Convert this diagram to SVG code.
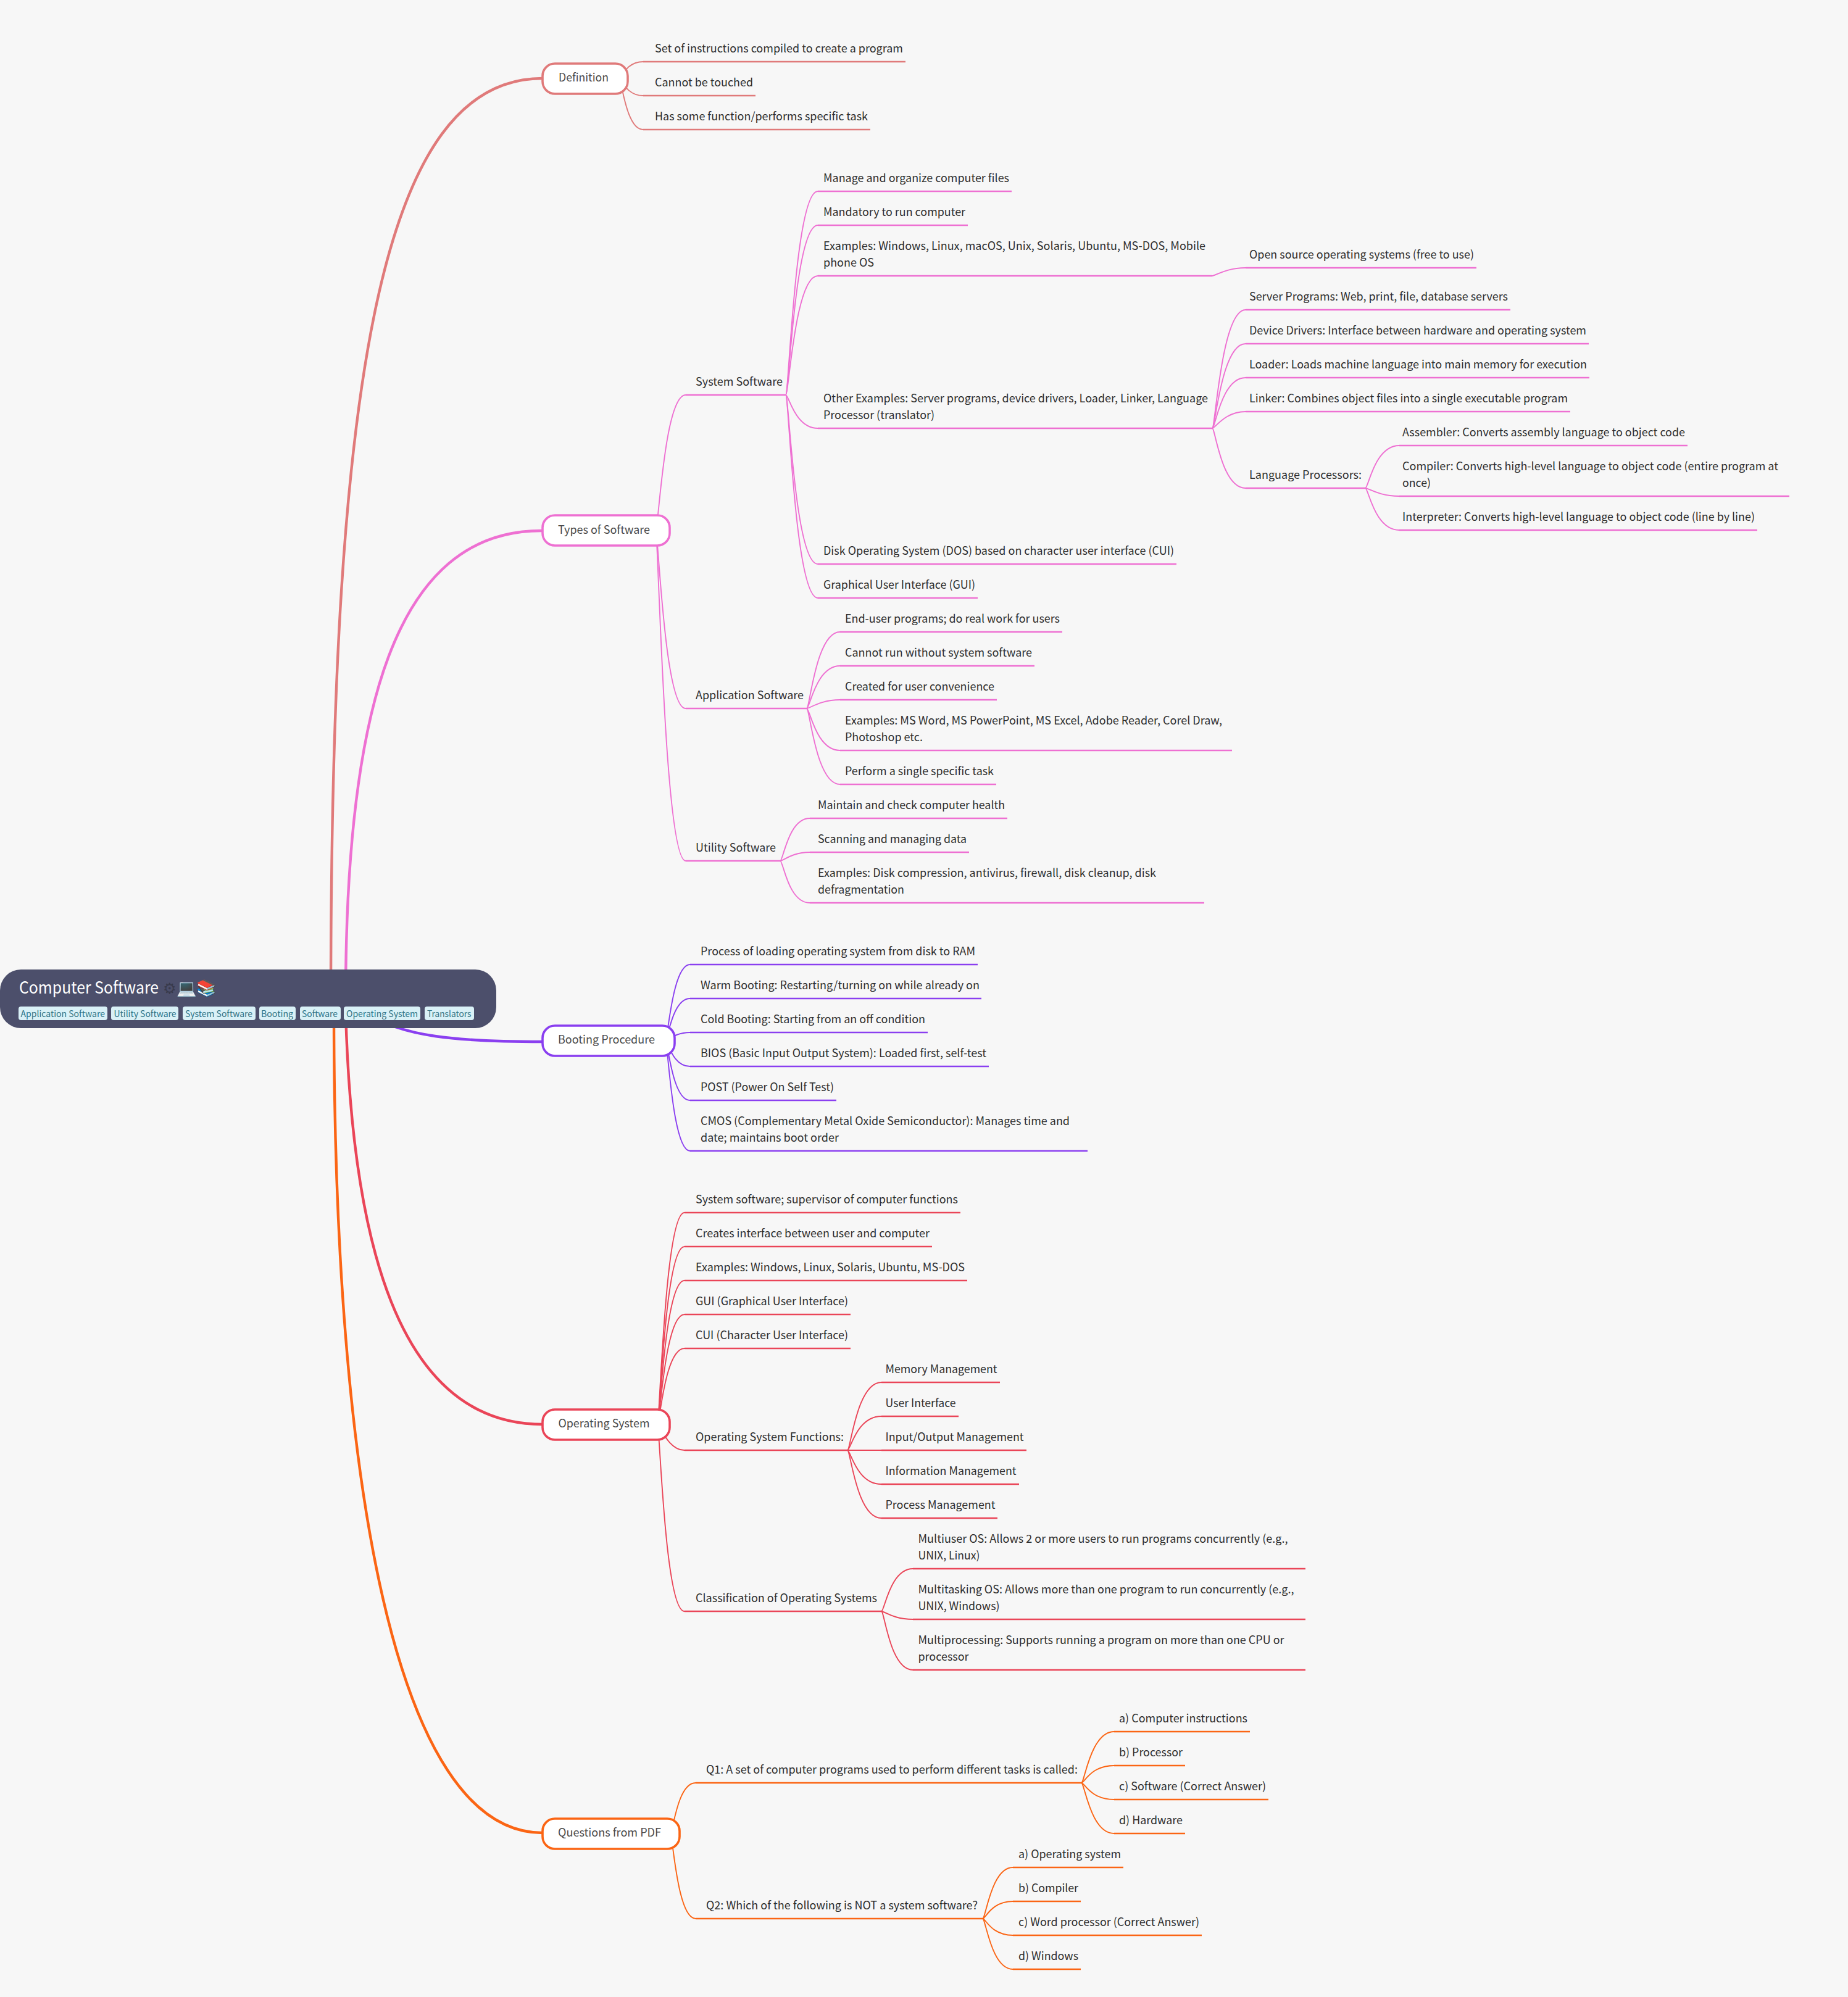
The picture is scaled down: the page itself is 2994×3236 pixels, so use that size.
<svg xmlns="http://www.w3.org/2000/svg" width="2994" height="3236" viewBox="0 0 2994 3236">
<style>
text{font-family:"Noto Sans CJK SC","Noto Sans",sans-serif;font-size:18px;fill:#2e2e2e}
.lb{fill:#4a4a4a}
.title{font-size:27px;fill:#fff}
.tag{font-size:14px;fill:#2f7486}
.tagbox{fill:#d9f1f7}
.c{fill:none;stroke-width:1.9;stroke-linecap:round}
.u{fill:none;stroke-width:2.6}
.m{fill:none;stroke-width:4.4;stroke-linecap:round}
.box{fill:#fff;stroke-width:3.6}
.def{stroke:#e07a7a}.typ{stroke:#ee70d2}.boot{stroke:#8a3ff0}.os{stroke:#ea4558}.q{stroke:#fb6514}
</style>
<rect width="2994" height="3236" fill="#f7f7f7"/>
<g id="connectors">
<path class="m def" d="M536 1620C536 600 620 127 879 127"/>
<path class="m typ" d="M560 1620C560 1150 640 860 877 860"/>
<path class="m os" d="M560 1640C570 2000 640 2308 879 2308"/>
<path class="m q" d="M541 1640C541 2400 640 2970 879 2970"/>
<path class="m boot" d="M590 1640C650 1680 740 1688 879 1688"/>
<g id="conn-definition">
<path class="c def" d="M1003 127C1007 127 1014 100 1042 100"/>
<path class="c def" d="M1003 127C1007 127 1014 155 1042 155"/>
<path class="c def" d="M1003 127C1007 127 1014 210 1042 210"/>
<path class="u def" d="M1042 100H1467M1042 155H1224M1042 210H1410"/>
</g>
<g id="conn-types">
<path class="c typ" d="M1062 860C1067 860 1076 640 1111 640"/>
<path class="c typ" d="M1062 860C1067 860 1076 1148 1111 1148"/>
<path class="c typ" d="M1062 860C1067 860 1076 1395 1111 1395"/>
<path class="c typ" d="M1273 640C1278 640 1288 310 1325 310"/>
<path class="c typ" d="M1273 640C1278 640 1288 365 1325 365"/>
<path class="c typ" d="M1273 640C1278 640 1288 447 1325 447"/>
<path class="c typ" d="M1273 640C1278 640 1288 694 1325 694"/>
<path class="c typ" d="M1273 640C1278 640 1288 914 1325 914"/>
<path class="c typ" d="M1273 640C1278 640 1288 969 1325 969"/>
<path class="c typ" d="M1964 447C1969 447 1986 434 2018 434"/>
<path class="c typ" d="M1964 694C1969 694 1979 502 2018 502"/>
<path class="c typ" d="M1964 694C1969 694 1979 557 2018 557"/>
<path class="c typ" d="M1964 694C1969 694 1979 612 2018 612"/>
<path class="c typ" d="M1964 694C1969 694 1984 667 2018 667"/>
<path class="c typ" d="M1964 694C1969 694 1979 791 2018 791"/>
<path class="c typ" d="M2212 791C2217 791 2227 722 2267 722"/>
<path class="c typ" d="M2212 791C2217 791 2234 804 2267 804"/>
<path class="c typ" d="M2212 791C2217 791 2227 859 2267 859"/>
<path class="c typ" d="M1307 1148C1312 1148 1322 1024 1361 1024"/>
<path class="c typ" d="M1307 1148C1312 1148 1322 1079 1361 1079"/>
<path class="c typ" d="M1307 1148C1312 1148 1329 1134 1361 1134"/>
<path class="c typ" d="M1307 1148C1312 1148 1322 1216 1361 1216"/>
<path class="c typ" d="M1307 1148C1312 1148 1322 1271 1361 1271"/>
<path class="c typ" d="M1264 1395C1269 1395 1277 1326 1312 1326"/>
<path class="c typ" d="M1264 1395C1269 1395 1283 1381 1312 1381"/>
<path class="c typ" d="M1264 1395C1269 1395 1277 1463 1312 1463"/>
<path class="u typ" d="M1111 640H1273M1111 1148H1307M1111 1395H1264M1325 310H1639M1325 365H1568M1325 447H1964M1325 694H1964M1325 914H1906M1325 969H1584M2018 434H2392M2018 502H2447M2018 557H2574M2018 612H2575M2018 667H2544M2018 791H2212M2267 722H2734M2267 804H2899M2267 859H2847M1361 1024H1721M1361 1079H1676M1361 1134H1615M1361 1216H1996M1361 1271H1614M1312 1326H1632M1312 1381H1570M1312 1463H1951"/>
</g>
<g id="conn-booting">
<path class="c boot" d="M1078 1686C1082 1686 1089 1563 1118 1563"/>
<path class="c boot" d="M1078 1686C1082 1686 1089 1618 1118 1618"/>
<path class="c boot" d="M1078 1686C1082 1686 1094 1673 1118 1673"/>
<path class="c boot" d="M1078 1686C1082 1686 1089 1728 1118 1728"/>
<path class="c boot" d="M1078 1686C1082 1686 1089 1783 1118 1783"/>
<path class="c boot" d="M1078 1686C1082 1686 1089 1865 1118 1865"/>
<path class="u boot" d="M1118 1563H1584M1118 1618H1590M1118 1673H1503M1118 1728H1602M1118 1783H1355M1118 1865H1762"/>
</g>
<g id="conn-os">
<path class="c os" d="M1065 2308C1069 2308 1077 1965 1109 1965"/>
<path class="c os" d="M1065 2308C1069 2308 1077 2020 1109 2020"/>
<path class="c os" d="M1065 2308C1069 2308 1077 2075 1109 2075"/>
<path class="c os" d="M1065 2308C1069 2308 1077 2130 1109 2130"/>
<path class="c os" d="M1065 2308C1069 2308 1077 2185 1109 2185"/>
<path class="c os" d="M1065 2308C1069 2308 1082 2350 1109 2350"/>
<path class="c os" d="M1065 2308C1069 2308 1077 2611 1109 2611"/>
<path class="c os" d="M1373 2350C1378 2350 1388 2240 1428 2240"/>
<path class="c os" d="M1373 2350C1378 2350 1388 2295 1428 2295"/>
<path class="c os" d="M1373 2350H1428"/>
<path class="c os" d="M1373 2350C1378 2350 1388 2405 1428 2405"/>
<path class="c os" d="M1373 2350C1378 2350 1388 2460 1428 2460"/>
<path class="c os" d="M1428 2611C1433 2611 1442 2542 1479 2542"/>
<path class="c os" d="M1428 2611C1433 2611 1448 2624 1479 2624"/>
<path class="c os" d="M1428 2611C1433 2611 1442 2706 1479 2706"/>
<path class="u os" d="M1109 1965H1556M1109 2020H1510M1109 2075H1567M1109 2130H1378M1109 2185H1378M1109 2350H1373M1109 2611H1428M1428 2240H1620M1428 2295H1553M1428 2350H1663M1428 2405H1651M1428 2460H1616M1479 2542H2115M1479 2624H2115M1479 2706H2115"/>
</g>
<g id="conn-questions">
<path class="c q" d="M1086 2972C1090 2972 1097 2889 1127 2889"/>
<path class="c q" d="M1086 2972C1090 2972 1097 3109 1127 3109"/>
<path class="c q" d="M1752 2889C1757 2889 1767 2806 1805 2806"/>
<path class="c q" d="M1752 2889C1757 2889 1767 2861 1805 2861"/>
<path class="c q" d="M1752 2889C1757 2889 1767 2916 1805 2916"/>
<path class="c q" d="M1752 2889C1757 2889 1767 2971 1805 2971"/>
<path class="c q" d="M1592 3109C1597 3109 1606 3026 1641 3026"/>
<path class="c q" d="M1592 3109C1597 3109 1606 3081 1641 3081"/>
<path class="c q" d="M1592 3109C1597 3109 1606 3136 1641 3136"/>
<path class="c q" d="M1592 3109C1597 3109 1606 3191 1641 3191"/>
<path class="u q" d="M1127 2889H1752M1127 3109H1592M1805 2806H2025M1805 2861H1920M1805 2916H2055M1805 2971H1920M1641 3026H1820M1641 3081H1751M1641 3136H1947M1641 3191H1751"/>
</g>
</g>
<g id="root">
<rect x="0" y="1571" width="804" height="95" rx="34" fill="#4c4f6b"/>
<text class="title" x="31" y="1610" textLength="226" lengthAdjust="spacingAndGlyphs">Computer Software</text>
<text class="title" y="1610"><tspan x="264" style="font-family:'DejaVu Sans',sans-serif;font-size:24px;fill:#383a4c">⚙</tspan><tspan x="286" style="font-family:'Noto Color Emoji','DejaVu Sans',sans-serif;font-size:26px">💻📚</tspan></text>
<rect class="tagbox" x="30" y="1631" width="144" height="22" rx="4"/><text class="tag" x="33.5" y="1648" textLength="136.5" lengthAdjust="spacingAndGlyphs">Application Software</text>
<rect class="tagbox" x="180" y="1631" width="109" height="22" rx="4"/><text class="tag" x="184.5" y="1648" textLength="101" lengthAdjust="spacingAndGlyphs">Utility Software</text>
<rect class="tagbox" x="296" y="1631" width="118" height="22" rx="4"/><text class="tag" x="300" y="1648" textLength="109" lengthAdjust="spacingAndGlyphs">System Software</text>
<rect class="tagbox" x="420" y="1631" width="59" height="22" rx="4"/><text class="tag" x="423" y="1648" textLength="52" lengthAdjust="spacingAndGlyphs">Booting</text>
<rect class="tagbox" x="486" y="1631" width="66" height="22" rx="4"/><text class="tag" x="489" y="1648" textLength="58" lengthAdjust="spacingAndGlyphs">Software</text>
<rect class="tagbox" x="557" y="1631" width="124" height="22" rx="4"/><text class="tag" x="561" y="1648" textLength="116" lengthAdjust="spacingAndGlyphs">Operating System</text>
<rect class="tagbox" x="688" y="1631" width="80" height="22" rx="4"/><text class="tag" x="692" y="1648" textLength="71.5" lengthAdjust="spacingAndGlyphs">Translators</text>
</g>
<g id="definition">
<rect class="box def" x="879" y="103" width="138" height="49" rx="20"/>
<text class="lb" x="905" y="132" textLength="81" lengthAdjust="spacingAndGlyphs">Definition</text>
<text x="1061" y="85" textLength="402" lengthAdjust="spacingAndGlyphs">Set of instructions compiled to create a program</text>
<text x="1061" y="140" textLength="159" lengthAdjust="spacingAndGlyphs">Cannot be touched</text>
<text x="1061" y="195" textLength="345" lengthAdjust="spacingAndGlyphs">Has some function/performs specific task</text>
</g>
<g id="types">
<rect class="box typ" x="879" y="835" width="206" height="49" rx="20"/>
<text class="lb" x="904" y="865" textLength="149" lengthAdjust="spacingAndGlyphs">Types of Software</text>
<text x="1127" y="625" textLength="141" lengthAdjust="spacingAndGlyphs">System Software</text>
<text x="1334" y="295" textLength="301" lengthAdjust="spacingAndGlyphs">Manage and organize computer files</text>
<text x="1334" y="350" textLength="230" lengthAdjust="spacingAndGlyphs">Mandatory to run computer</text>
<text x="1334" y="405" textLength="619" lengthAdjust="spacingAndGlyphs">Examples: Windows, Linux, macOS, Unix, Solaris, Ubuntu, MS-DOS, Mobile</text>
<text x="1334" y="432" textLength="82" lengthAdjust="spacingAndGlyphs">phone OS</text>
<text x="2024" y="419" textLength="364" lengthAdjust="spacingAndGlyphs">Open source operating systems (free to use)</text>
<text x="1334" y="652" textLength="623" lengthAdjust="spacingAndGlyphs">Other Examples: Server programs, device drivers, Loader, Linker, Language</text>
<text x="1334" y="679" textLength="180" lengthAdjust="spacingAndGlyphs">Processor (translator)</text>
<text x="2024" y="487" textLength="419" lengthAdjust="spacingAndGlyphs">Server Programs: Web, print, file, database servers</text>
<text x="2024" y="542" textLength="546" lengthAdjust="spacingAndGlyphs">Device Drivers: Interface between hardware and operating system</text>
<text x="2024" y="597" textLength="547" lengthAdjust="spacingAndGlyphs">Loader: Loads machine language into main memory for execution</text>
<text x="2024" y="652" textLength="516" lengthAdjust="spacingAndGlyphs">Linker: Combines object files into a single executable program</text>
<text x="2024" y="776" textLength="182" lengthAdjust="spacingAndGlyphs">Language Processors:</text>
<text x="2272" y="707" textLength="458" lengthAdjust="spacingAndGlyphs">Assembler: Converts assembly language to object code</text>
<text x="2272" y="762" textLength="609" lengthAdjust="spacingAndGlyphs">Compiler: Converts high-level language to object code (entire program at</text>
<text x="2272" y="789" textLength="46" lengthAdjust="spacingAndGlyphs">once)</text>
<text x="2272" y="844" textLength="571" lengthAdjust="spacingAndGlyphs">Interpreter: Converts high-level language to object code (line by line)</text>
<text x="1334" y="899" textLength="568" lengthAdjust="spacingAndGlyphs">Disk Operating System (DOS) based on character user interface (CUI)</text>
<text x="1334" y="954" textLength="246" lengthAdjust="spacingAndGlyphs">Graphical User Interface (GUI)</text>
<text x="1127" y="1133" textLength="175" lengthAdjust="spacingAndGlyphs">Application Software</text>
<text x="1369" y="1009" textLength="348" lengthAdjust="spacingAndGlyphs">End-user programs; do real work for users</text>
<text x="1369" y="1064" textLength="303" lengthAdjust="spacingAndGlyphs">Cannot run without system software</text>
<text x="1369" y="1119" textLength="242" lengthAdjust="spacingAndGlyphs">Created for user convenience</text>
<text x="1369" y="1174" textLength="611" lengthAdjust="spacingAndGlyphs">Examples: MS Word, MS PowerPoint, MS Excel, Adobe Reader, Corel Draw,</text>
<text x="1369" y="1201" textLength="126" lengthAdjust="spacingAndGlyphs">Photoshop etc.</text>
<text x="1369" y="1256" textLength="241" lengthAdjust="spacingAndGlyphs">Perform a single specific task</text>
<text x="1127" y="1380" textLength="130" lengthAdjust="spacingAndGlyphs">Utility Software</text>
<text x="1325" y="1311" textLength="303" lengthAdjust="spacingAndGlyphs">Maintain and check computer health</text>
<text x="1325" y="1366" textLength="241" lengthAdjust="spacingAndGlyphs">Scanning and managing data</text>
<text x="1325" y="1421" textLength="548" lengthAdjust="spacingAndGlyphs">Examples: Disk compression, antivirus, firewall, disk cleanup, disk</text>
<text x="1325" y="1448" textLength="140" lengthAdjust="spacingAndGlyphs">defragmentation</text>
</g>
<g id="booting">
<rect class="box boot" x="879" y="1662" width="214" height="49" rx="20"/>
<text class="lb" x="904" y="1691" textLength="157" lengthAdjust="spacingAndGlyphs">Booting Procedure</text>
<text x="1135" y="1548" textLength="445" lengthAdjust="spacingAndGlyphs">Process of loading operating system from disk to RAM</text>
<text x="1135" y="1603" textLength="452" lengthAdjust="spacingAndGlyphs">Warm Booting: Restarting/turning on while already on</text>
<text x="1135" y="1658" textLength="364" lengthAdjust="spacingAndGlyphs">Cold Booting: Starting from an off condition</text>
<text x="1135" y="1713" textLength="463" lengthAdjust="spacingAndGlyphs">BIOS (Basic Input Output System): Loaded first, self-test</text>
<text x="1135" y="1768" textLength="216" lengthAdjust="spacingAndGlyphs">POST (Power On Self Test)</text>
<text x="1135" y="1823" textLength="598" lengthAdjust="spacingAndGlyphs">CMOS (Complementary Metal Oxide Semiconductor): Manages time and</text>
<text x="1135" y="1850" textLength="224" lengthAdjust="spacingAndGlyphs">date; maintains boot order</text>
</g>
<g id="operating-system">
<rect class="box os" x="879" y="2284" width="206" height="49" rx="20"/>
<text class="lb" x="904.5" y="2313" textLength="148" lengthAdjust="spacingAndGlyphs">Operating System</text>
<text x="1127" y="1950" textLength="425" lengthAdjust="spacingAndGlyphs">System software; supervisor of computer functions</text>
<text x="1127" y="2005" textLength="379" lengthAdjust="spacingAndGlyphs">Creates interface between user and computer</text>
<text x="1127" y="2060" textLength="436" lengthAdjust="spacingAndGlyphs">Examples: Windows, Linux, Solaris, Ubuntu, MS-DOS</text>
<text x="1127" y="2115" textLength="247" lengthAdjust="spacingAndGlyphs">GUI (Graphical User Interface)</text>
<text x="1127" y="2170" textLength="247" lengthAdjust="spacingAndGlyphs">CUI (Character User Interface)</text>
<text x="1127" y="2335" textLength="240" lengthAdjust="spacingAndGlyphs">Operating System Functions:</text>
<text x="1434.5" y="2225" textLength="181" lengthAdjust="spacingAndGlyphs">Memory Management</text>
<text x="1434.5" y="2280" textLength="114" lengthAdjust="spacingAndGlyphs">User Interface</text>
<text x="1434.5" y="2335" textLength="224" lengthAdjust="spacingAndGlyphs">Input/Output Management</text>
<text x="1434.5" y="2390" textLength="212" lengthAdjust="spacingAndGlyphs">Information Management</text>
<text x="1434.5" y="2445" textLength="178" lengthAdjust="spacingAndGlyphs">Process Management</text>
<text x="1127" y="2596" textLength="294" lengthAdjust="spacingAndGlyphs">Classification of Operating Systems</text>
<text x="1487.5" y="2500" textLength="599" lengthAdjust="spacingAndGlyphs">Multiuser OS: Allows 2 or more users to run programs concurrently (e.g.,</text>
<text x="1487.5" y="2527" textLength="100" lengthAdjust="spacingAndGlyphs">UNIX, Linux)</text>
<text x="1487.5" y="2582" textLength="609" lengthAdjust="spacingAndGlyphs">Multitasking OS: Allows more than one program to run concurrently (e.g.,</text>
<text x="1487.5" y="2609" textLength="132" lengthAdjust="spacingAndGlyphs">UNIX, Windows)</text>
<text x="1487.5" y="2664" textLength="593" lengthAdjust="spacingAndGlyphs">Multiprocessing: Supports running a program on more than one CPU or</text>
<text x="1487.5" y="2691" textLength="82" lengthAdjust="spacingAndGlyphs">processor</text>
</g>
<g id="questions">
<rect class="box q" x="879" y="2947" width="222" height="49" rx="20"/>
<text class="lb" x="904" y="2976" textLength="167" lengthAdjust="spacingAndGlyphs">Questions from PDF</text>
<text x="1144" y="2874" textLength="602" lengthAdjust="spacingAndGlyphs">Q1: A set of computer programs used to perform different tasks is called:</text>
<text x="1813" y="2791" textLength="208" lengthAdjust="spacingAndGlyphs">a) Computer instructions</text>
<text x="1813" y="2846" textLength="103" lengthAdjust="spacingAndGlyphs">b) Processor</text>
<text x="1813" y="2901" textLength="238" lengthAdjust="spacingAndGlyphs">c) Software (Correct Answer)</text>
<text x="1813" y="2956" textLength="103" lengthAdjust="spacingAndGlyphs">d) Hardware</text>
<text x="1144" y="3094" textLength="440" lengthAdjust="spacingAndGlyphs">Q2: Which of the following is NOT a system software?</text>
<text x="1650" y="3011" textLength="166" lengthAdjust="spacingAndGlyphs">a) Operating system</text>
<text x="1650" y="3066" textLength="97" lengthAdjust="spacingAndGlyphs">b) Compiler</text>
<text x="1650" y="3121" textLength="293" lengthAdjust="spacingAndGlyphs">c) Word processor (Correct Answer)</text>
<text x="1650" y="3176" textLength="97" lengthAdjust="spacingAndGlyphs">d) Windows</text>
</g>
</svg>
